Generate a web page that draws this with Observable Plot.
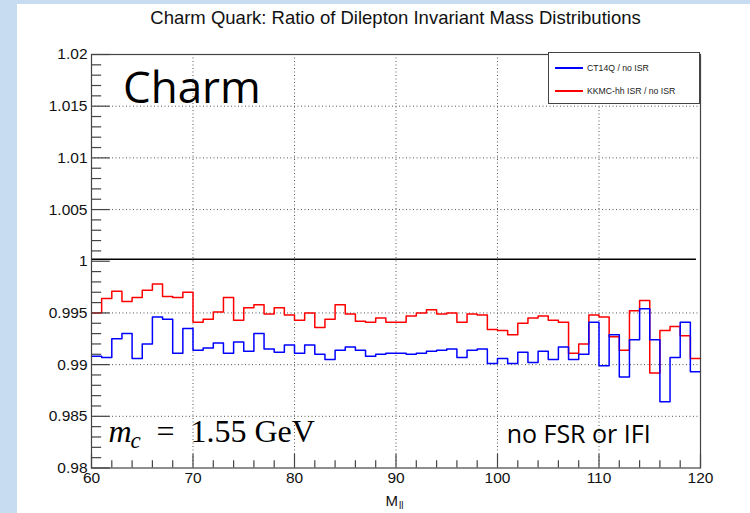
<!DOCTYPE html>
<html>
<head>
<meta charset="utf-8">
<script src="https://cdn.jsdelivr.net/npm/d3@7"></script>
<script src="https://cdn.jsdelivr.net/npm/@observablehq/plot@0.6"></script>
<style>
  html, body { margin: 0; padding: 0; }
  #wrap { position: relative; width: 750px; height: 513px; overflow: hidden; background: #c7dbf1; }
  #slide { position: absolute; left: 17px; top: 4px; right: 0; bottom: 0; background: #ffffff; }
  #chart { position: absolute; left: 0; top: 0; }
  #title { position: absolute; left: 0; width: 791px; top: 7px; text-align: center;
           font-family: "Liberation Sans", Arial, sans-serif; font-size: 18.5px; color: #111; }
  #legend { position: absolute; left: 548px; top: 52px; width: 150px; height: 50px;
            border: 1px solid #444; background: #fff; font-family: "Liberation Sans", Arial, sans-serif;
            font-size: 8.7px; color: #222; }
  .li { position: absolute; left: 6px; height: 12px; display: flex; align-items: center; }
  .sw { width: 28px; height: 1.5px; margin-right: 4px; }
</style>
</head>
<body>
<div id="wrap">
  <div id="slide"></div>
  <div id="chart"></div>
  <div id="title"></div>
  <div id="legend"></div>
</div>
<script>
// ---- data ----
const titleText = "Charm Quark: Ratio of Dilepton Invariant Mass Distributions";
const seriesNames = ["CT14Q / no ISR", "KKMC-hh ISR / no ISR"];
const seriesColors = ["#0000ff", "#ff0000"];
const binStart = 60;
const binEnd = 120;
// bin contents, one per 1-GeV bin from 60 to 119
const ct14q = [
  0.9908, 0.9907, 0.9925, 0.9930, 0.9906, 0.9920, 0.9946, 0.9944, 0.9911, 0.9935,
  0.9914, 0.9916, 0.9921, 0.9911, 0.9922, 0.9913, 0.9930, 0.9915, 0.9912, 0.9919,
  0.9911, 0.9919, 0.9910, 0.9905, 0.9914, 0.9917, 0.9914, 0.9908, 0.9910, 0.9911,
  0.9911, 0.9910, 0.9911, 0.9913, 0.9914, 0.9915, 0.9907, 0.9914, 0.9915, 0.9901,
  0.9906, 0.9901, 0.9912, 0.9902, 0.9913, 0.9905, 0.9917, 0.9905, 0.9910, 0.9941,
  0.9899, 0.9929, 0.9888, 0.9924, 0.9954, 0.9924, 0.9864, 0.9907, 0.9941, 0.9893
];
const kkmc = [
  0.9950, 0.9964, 0.9971, 0.9961, 0.9965, 0.9972, 0.9978, 0.9966, 0.9965, 0.9970,
  0.9941, 0.9944, 0.9951, 0.9965, 0.9943, 0.9955, 0.9958, 0.9949, 0.9955, 0.9948,
  0.9943, 0.9950, 0.9936, 0.9944, 0.9958, 0.9949, 0.9942, 0.9941, 0.9945, 0.9941,
  0.9941, 0.9947, 0.9950, 0.9953, 0.9949, 0.9950, 0.9941, 0.9949, 0.9948, 0.9934,
  0.9933, 0.9929, 0.9940, 0.9945, 0.9947, 0.9943, 0.9941, 0.9911, 0.9920, 0.9948,
  0.9946, 0.9927, 0.9914, 0.9952, 0.9962, 0.9892, 0.9933, 0.9937, 0.9928, 0.9906
];
const referenceLevel = 1.0002;
const xTicks = [60, 70, 80, 90, 100, 110, 120];
const xGrid = [70, 80, 90, 100, 110];
const yTicks = [0.98, 0.985, 0.99, 0.995, 1, 1.005, 1.01, 1.015, 1.02];
const yTickLabels = ["0.98", "0.985", "0.99", "0.995", "1", "1.005", "1.01", "1.015", "1.02"];
const yGrid = [0.985, 0.99, 0.995, 1.005, 1.01, 1.015];

// ---- build ----
const edges = d3.range(binStart, binEnd + 1);
const stepData = (vals) => edges.map((x, i) => ({x, y: vals[Math.min(i, vals.length - 1)]}));
const yMinor = d3.range(0, 41).map(i => +(0.98 + i * 0.001).toFixed(4));
const xMinor = d3.range(binStart, binEnd + 1, 2);
const fmtY = d => { const i = yTicks.findIndex(t => Math.abs(t - d) < 1e-9); return i >= 0 ? yTickLabels[i] : ""; };

const axisCol = "#444";
const plot = Plot.plot({
  width: 750,
  height: 513,
  marginLeft: 91,
  marginRight: 50,
  marginTop: 54,
  marginBottom: 45.5,
  style: {background: "transparent", fontFamily: "'Liberation Sans', Arial, sans-serif", fontSize: "15.5px", color: "#111", overflow: "visible"},
  x: {domain: [binStart, binEnd], ticks: xTicks, tickSize: 0, tickPadding: 4, tickFormat: d => String(d), label: null},
  y: {domain: [0.98, 1.02], ticks: yTicks, tickSize: 0, tickPadding: 4, tickFormat: fmtY, label: null},
  marks: [
    // dotted grid
    Plot.ruleX(xGrid, {x: d => d, stroke: "#555", strokeWidth: 1, strokeDasharray: "1,2.5"}),
    Plot.ruleY(yGrid, {y: d => d, stroke: "#555", strokeWidth: 1, strokeDasharray: "1,2.5"}),
    // reference line
    Plot.ruleY([referenceLevel], {y: d => d, x1: binStart, x2: 119.6, stroke: "#000", strokeWidth: 1.5}),
    // histograms
    Plot.line(stepData(kkmc), {x: "x", y: "y", curve: "step-after", stroke: seriesColors[1], strokeWidth: 1.5}),
    Plot.line(stepData(ct14q), {x: "x", y: "y", curve: "step-after", stroke: seriesColors[0], strokeWidth: 1.5}),
    // ROOT-style inward ticks
    Plot.ruleY(yMinor, {y: d => d, x1: binStart, x2: d => binStart + (yTicks.some(t => Math.abs(t - d) < 1e-9) ? 1.85 : 1.0), stroke: axisCol, strokeWidth: 1.2}),
    Plot.ruleX(xMinor, {x: d => d, y1: 0.98, y2: d => 0.98 + (xTicks.includes(d) ? 0.0013 : 0.0007), stroke: axisCol, strokeWidth: 1.2}),
    Plot.frame({stroke: axisCol, strokeWidth: 1.2}),
    // annotations
    Plot.text(["Charm"], {x: 63.1, y: 1.0153, text: d => d, textAnchor: "start", lineAnchor: "bottom", fontSize: 44, fontFamily: "'Open Sans', sans-serif", fill: "#000"}),
    Plot.text(["m"], {x: 61.67, y: 0.9825, text: d => d, textAnchor: "start", lineAnchor: "bottom", fontSize: 32, fontStyle: "italic", fontFamily: "'Liberation Serif', serif", fill: "#000"}),
    Plot.text(["c"], {x: 61.67, y: 0.9825, dx: 22, dy: 6, text: d => d, textAnchor: "start", lineAnchor: "bottom", fontSize: 23, fontStyle: "italic", fontFamily: "'Liberation Serif', serif", fill: "#000"}),
    Plot.text(["=\u20021.55 GeV"], {x: 61.67, y: 0.9825, dx: 48, text: d => d, textAnchor: "start", lineAnchor: "bottom", fontSize: 32, fontFamily: "'Liberation Serif', serif", fill: "#000"}),
    Plot.text(["no FSR or IFI"], {x: 100.9, y: 0.9824, text: d => d, textAnchor: "start", lineAnchor: "bottom", fontSize: 25, fontFamily: "'Open Sans', sans-serif", fill: "#000"}),
    // x-axis title M_ll
    Plot.text(["M"], {x: 90, y: 0.98, dx: 2, dy: 38, text: d => d, textAnchor: "end", lineAnchor: "bottom", fontSize: 15, fill: "#111"}),
    Plot.text(["ll"], {x: 90, y: 0.98, dx: 3, dy: 41, text: d => d, textAnchor: "start", lineAnchor: "bottom", fontSize: 10, fill: "#111"})
  ]
});
document.getElementById("chart").appendChild(plot);
document.getElementById("title").textContent = titleText;

const legend = document.getElementById("legend");
seriesNames.forEach((name, i) => {
  const row = document.createElement("div");
  row.className = "li";
  row.style.top = (i === 0 ? 9 : 32) + "px";
  const sw = document.createElement("div");
  sw.className = "sw";
  sw.style.backgroundColor = seriesColors[i];
  const t = document.createElement("span");
  t.textContent = name;
  row.appendChild(sw);
  row.appendChild(t);
  legend.appendChild(row);
});
</script>
</body>
</html>
